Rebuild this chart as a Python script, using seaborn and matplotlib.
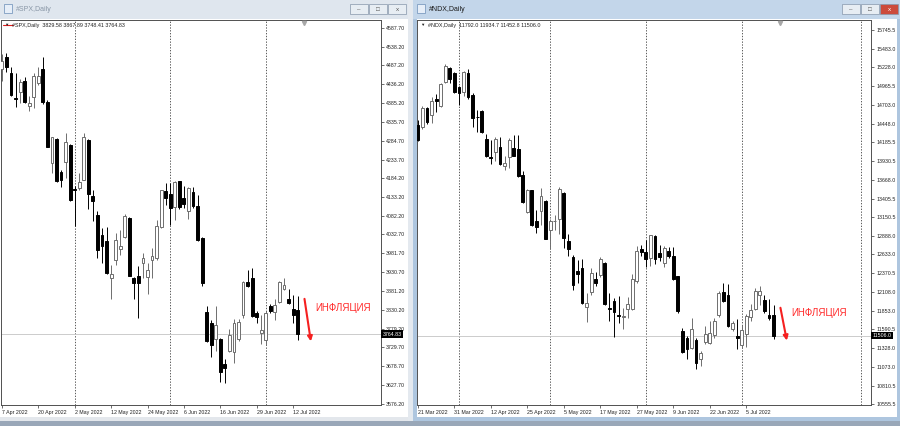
import numpy as np
import pandas as pd
import matplotlib
matplotlib.use("Agg")
import matplotlib.pyplot as plt
import matplotlib.transforms as mtransforms
from matplotlib.patches import Rectangle
import seaborn as sns

# ---- #SPX daily bars (7 Apr 2022 .. 13 Jul 2022) ----
spx_open = [4476.9, 4510.7, 4466.2, 4400.0, 4416.0, 4446.3, 4378.4, 4401.8, 4439.3, 4476.9,
            4389.2, 4224.7, 4290.7, 4199.5, 4228.2, 4273.0, 4155.7, 4156.5, 4179.9, 4287.2,
            4135.1, 4086.0, 4032.3, 4014.3, 3916.2, 3963.4, 3994.0, 4026.1, 4077.1, 3916.2,
            3920.4, 3956.4, 3918.8, 3965.2, 3969.8, 4053.0, 4148.5, 4142.3, 4107.4, 4175.3,
            4131.6, 4094.8, 4145.8, 4110.1, 4023.5, 3824.9, 3795.4, 3750.6, 3750.6, 3685.4,
            3719.2, 3716.5, 3750.6, 3815.0, 3904.4, 3916.2, 3820.4, 3768.6, 3748.7, 3839.9,
            3824.9, 3850.7, 3884.8, 3859.8, 3831.1, 3829.58]
spx_high = [4517.9, 4521.4, 4483.9, 4467.8, 4451.7, 4455.4, 4405.3, 4467.8, 4482.3, 4510.7,
            4394.5, 4296.1, 4292.0, 4206.7, 4305.2, 4275.0, 4161.9, 4197.9, 4306.8, 4290.0,
            4153.0, 4094.8, 4051.1, 4053.8, 3951.8, 4036.9, 4045.7, 4088.7, 4079.0, 3919.0,
            3949.1, 3984.0, 3957.2, 3997.4, 4070.7, 4153.0, 4171.8, 4171.8, 4175.3, 4177.0,
            4161.9, 4161.1, 4161.1, 4139.6, 4025.0, 3839.9, 3802.4, 3839.9, 3753.3, 3698.8,
            3777.4, 3804.3, 3804.3, 3907.0, 3938.4, 3943.0, 3826.5, 3815.0, 3826.5, 3845.0,
            3859.8, 3907.0, 3916.2, 3884.8, 3868.7, 3867.89]
spx_low = [4446.3, 4470.5, 4405.3, 4376.5, 4385.7, 4385.7, 4365.8, 4372.3, 4434.8, 4383.8,
           4267.0, 4197.9, 4175.0, 4160.3, 4184.4, 4123.0, 4054.6, 4153.0, 4178.0, 4101.3,
           4068.0, 3969.8, 3957.2, 3927.7, 3857.9, 3951.8, 3978.7, 4023.5, 3920.4, 3857.9,
           3808.8, 3916.2, 3874.0, 3916.2, 3965.2, 4050.3, 4112.8, 4059.2, 4072.6, 4100.0,
           4104.7, 4075.2, 4104.7, 4014.3, 3895.5, 3743.3, 3704.2, 3719.2, 3636.0, 3634.4,
           3716.5, 3688.1, 3746.0, 3808.8, 3892.0, 3811.5, 3795.4, 3737.2, 3734.5, 3822.0,
           3802.4, 3849.0, 3883.0, 3846.4, 3795.4, 3748.41]
spx_close = [4500.0, 4482.3, 4407.1, 4398.0, 4442.8, 4389.2, 4387.3, 4458.9, 4458.9, 4390.0,
             4269.2, 4294.5, 4176.4, 4179.9, 4281.8, 4124.3, 4153.0, 4174.5, 4296.1, 4142.3,
             4121.7, 3992.1, 4000.9, 3929.6, 3927.7, 4018.9, 4002.8, 4083.3, 3922.3, 3902.7,
             3900.9, 3969.8, 3938.4, 3976.0, 4054.6, 4151.2, 4130.8, 4103.9, 4174.5, 4106.6,
             4115.5, 4158.4, 4110.1, 4017.0, 3903.5, 3746.0, 3734.5, 3788.2, 3662.9, 3674.7,
             3761.3, 3795.4, 3797.0, 3904.4, 3893.6, 3813.1, 3811.5, 3774.7, 3820.4, 3826.5,
             3842.6, 3904.4, 3898.2, 3849.1, 3815.8, 3764.83]
spx_price_labels = [4587.70, 4538.20, 4487.20, 4436.20, 4385.20, 4335.70, 4284.70, 4233.70,
                    4184.20, 4133.20, 4082.20, 4032.70, 3981.70, 3930.70, 3881.20, 3830.20,
                    3779.20, 3729.70, 3678.70, 3627.70, 3576.20]
spx_date_labels = ['7 Apr 2022', '20 Apr 2022', '2 May 2022', '12 May 2022', '24 May 2022',
                   '6 Jun 2022', '16 Jun 2022', '29 Jun 2022', '12 Jul 2022']
spx_month_starts = [16, 37, 58]

# ---- #NDX daily bars (21 Mar 2022 .. 13 Jul 2022) ----
ndx_open = [14430.7, 14398.9, 14661.8, 14569.1, 14794.7, 14693.7, 15030.0, 15215.4, 15146.2, 14952.5,
            14891.6, 15154.5, 14845.9, 14545.0, 14614.8, 14232.8, 13985.0, 14047.3, 14122.1, 13853.6,
            13983.7, 14108.2, 14094.4, 13738.7, 13216.9, 13521.4, 13092.4, 13230.8, 13369.2, 12967.8,
            13090.0, 13125.6, 13485.4, 12815.6, 12599.7, 12400.4, 12447.5, 11907.7, 12109.7, 12285.5,
            12340.9, 12516.6, 11893.8, 11985.2, 11785.0, 11759.6, 11880.0, 11880.0, 12262.0, 12707.6,
            12666.1, 12585.8, 12887.7, 12655.0, 12506.9, 12677.2, 12608.0, 12327.0, 11570.0, 11478.6,
            11340.2, 11445.4, 11188.0, 11417.7, 11399.7, 11510.5, 11787.3, 12109.7, 12064.1, 11603.2,
            11500.8, 11372.1, 11524.3, 11769.2, 11880.0, 12064.1, 11999.0, 11787.3, 11792.0]
ndx_high = [14499.9, 14693.7, 14684.0, 14822.4, 14859.7, 15016.1, 15274.9, 15233.4, 15164.2, 14970.5,
            15182.2, 15201.6, 14869.4, 14638.3, 14638.3, 14306.1, 14223.1, 14260.5, 14260.5, 14001.7,
            14246.6, 14292.3, 14292.3, 13784.4, 13545.0, 13531.1, 13254.3, 13554.6, 13392.7, 13125.6,
            13185.1, 13568.5, 13494.0, 12922.1, 12617.7, 12552.6, 12562.3, 12091.7, 12447.5, 12386.5,
            12599.7, 12525.0, 12091.7, 12032.2, 12050.2, 11884.1, 12036.4, 12354.7, 12749.1, 12756.1,
            12825.3, 12908.3, 12894.5, 12763.0, 12742.2, 12738.1, 12728.4, 12336.0, 11617.0, 11500.8,
            11755.4, 11478.6, 11293.2, 11639.2, 11708.4, 11755.4, 12123.6, 12239.8, 12216.3, 11708.4,
            11731.9, 11648.9, 11801.1, 11939.5, 12170.6, 12192.8, 12064.1, 12008.7, 11934.7]
ndx_low = [14199.6, 14371.2, 14444.5, 14454.2, 14600.9, 14684.0, 15007.8, 15016.1, 14869.4, 14707.5,
           14832.1, 14786.4, 14398.9, 14324.1, 14315.8, 13983.7, 13890.9, 13922.8, 13877.1, 13798.2,
           13831.4, 13992.0, 13706.9, 13347.0, 13200.0, 13023.2, 12931.8, 13046.7, 12839.1, 12710.4,
           12967.8, 12922.1, 12724.2, 12608.0, 12137.4, 12239.8, 11939.5, 11694.5, 12064.1, 12192.8,
           12322.9, 11925.7, 11708.4, 11492.5, 11676.5, 11593.5, 11745.7, 11860.6, 12239.8, 12608.0,
           12451.6, 12465.4, 12493.1, 12534.6, 12451.6, 12585.8, 12275.8, 11824.6, 11271.0, 11188.0,
           11316.7, 11039.9, 11085.6, 11385.9, 11385.9, 11478.6, 11769.2, 11971.3, 11630.0, 11570.0,
           11326.4, 11340.2, 11354.1, 11708.4, 11860.6, 11925.7, 11824.6, 11722.2, 11452.8]
ndx_close = [14223.1, 14661.8, 14462.5, 14767.0, 14767.0, 14994.0, 15247.3, 15063.2, 14891.6, 14877.7,
             15160.1, 14814.1, 14523.4, 14537.3, 14324.1, 13992.0, 13969.8, 14232.8, 13890.9, 13900.6,
             14223.1, 14001.7, 13724.9, 13355.3, 13531.1, 13046.7, 13014.9, 13448.1, 12848.8, 13092.4,
             13097.9, 13540.8, 12862.6, 12710.4, 12202.5, 12354.7, 11953.3, 11953.3, 12378.2, 12230.1,
             12572.0, 11939.5, 11880.0, 11832.9, 11780.3, 11777.6, 11939.5, 12285.5, 12673.0, 12659.2,
             12572.0, 12894.5, 12562.3, 12599.7, 12724.2, 12608.0, 12285.5, 11846.8, 11279.3, 11316.7,
             11593.5, 11122.9, 11271.0, 11524.3, 11547.8, 11708.4, 12091.7, 11985.2, 11639.2, 11676.5,
             11478.6, 11583.8, 11777.6, 11860.6, 12123.6, 12123.6, 11846.8, 11755.4, 11506.0]
ndx_price_labels = [15745.5, 15483.0, 15228.0, 14965.5, 14703.0, 14448.0, 14185.5, 13930.5,
                    13668.0, 13405.5, 13150.5, 12888.0, 12633.0, 12370.5, 12108.0, 11853.0,
                    11590.5, 11328.0, 11073.0, 10810.5, 10555.5]
ndx_date_labels = ['21 Mar 2022', '31 Mar 2022', '12 Apr 2022', '25 Apr 2022', '5 May 2022',
                   '17 May 2022', '27 May 2022', '9 Jun 2022', '22 Jun 2022', '5 Jul 2022']
ndx_month_starts = [9, 29, 50, 71]

annotation = 'ИНФЛЯЦИЯ'

sns.set_theme(style="white")
plt.rcParams['font.family'] = ['Liberation Sans', 'DejaVu Sans']

W, H = 900, 426
fig = plt.figure(figsize=(W / 100, H / 100), dpi=100)
fig.patch.set_facecolor('#dde4ec')


def box(x0, y0, x1, y1, fc, ec='none', lw=0):
    fig.patches.append(Rectangle((x0 / W, 1 - y1 / H), (x1 - x0) / W, (y1 - y0) / H,
                                 transform=fig.transFigure, facecolor=fc,
                                 edgecolor=ec, linewidth=lw, zorder=-5))


def ftext(x, y, s, **kw):
    fig.text(x / W, 1 - y / H, s, va='center', **kw)


def window(x0, x1, title, active):
    bar = '#c3d6ea' if active else '#dfe6ee'
    box(x0, 0, x1, 19, bar)
    box(x0, 19, x1, 417, 'white')
    box(x0 + 4, 4, x0 + 12, 13, '#e6eef8', ec='#7d9cc0', lw=0.6)
    ftext(x0 + 16, 9.5, title, fontsize=5, color='#1a1a1a' if active else '#8896a6')
    btns = [(x1 - 58, '#e7edf3'), (x1 - 39, '#e7edf3'), (x1 - 20, '#cc4b3c' if active else '#e7edf3')]
    for bx, col in btns:
        box(bx, 4, bx + 18, 14, col, ec='#8697ab', lw=0.5)
    ftext(x1 - 49, 9.5, '–', fontsize=4.5, color='#555', ha='center')
    ftext(x1 - 30, 9.5, '□', fontsize=4.5, color='#555', ha='center')
    ftext(x1 - 11, 9.5, 'x', fontsize=4.5, color='white' if active else '#555', ha='center')


window(0, 408, '#SPX,Daily', False)
window(413, 900, '#NDX,Daily', True)
box(408, 0, 413, 426, '#e4e9ef')
box(413, 19, 417, 421, '#aec6df')
box(897, 19, 900, 421, '#aec6df')
box(0, 417, 408, 421, '#e3e7ec')
box(413, 417, 900, 421, '#aec6df')
box(0, 421, 900, 426, '#99a7b8')

BULL = '#6e6e6e'


def candles(ax, o, h, l, c):
    df = pd.DataFrame({'open': o, 'high': h, 'low': l, 'close': c})
    df['x'] = np.arange(len(df))
    df['bottom'] = df[['open', 'close']].min(axis=1)
    df['height'] = (df['close'] - df['open']).abs()
    up = df['close'] >= df['open']
    for sel, face, edge in [(up, 'white', BULL), (~up, 'black', 'black')]:
        d = df[sel]
        ax.vlines(d['x'], d['low'], d['high'], color=edge, lw=0.7, zorder=2)
        ax.bar(d['x'], d['height'], bottom=d['bottom'], width=0.62, color=face,
               edgecolor=edge, linewidth=0.7, zorder=3)
    return df


def chart(rect, name, o, h, l, c, plabels, fmt, dlabels, months, ylim, step, shift_line=None):
    x0, y0, x1, y1 = rect
    ax = fig.add_axes([x0 / W, 1 - y1 / H, (x1 - x0) / W, (y1 - y0) / H])
    ax.set_facecolor('white')
    df = candles(ax, o, h, l, c)
    n = len(df)
    ax.set_xlim(-0.2, -0.2 + (x1 - x0) / step)
    ax.set_ylim(*ylim)
    for m in months:
        ax.axvline(m, color='#404040', lw=0.6, ls=(0, (1.6, 1.8)), zorder=1)
    if shift_line is not None:
        ax.axvline(shift_line, color='#404040', lw=0.6, ls=(0, (1.6, 1.8)), zorder=1)
    last_c = c[-1]
    ax.axhline(last_c, color='#c4c4c4', lw=0.6, zorder=1)

    ax.yaxis.tick_right()
    ax.set_yticks(plabels)
    ax.set_yticklabels([fmt.format(v) for v in plabels])
    ax.set_xticks(np.arange(len(dlabels)) * 8)
    ax.set_xticklabels(dlabels)
    for t in ax.get_xticklabels():
        t.set_ha('left')
    ax.tick_params(axis='both', which='both', direction='out', length=2.5, width=0.5,
                   color='#333333', labelsize=3.8, labelcolor='#222222', pad=1.2)
    ax.tick_params(axis='x', bottom=True, pad=1.5)
    ax.tick_params(axis='y', right=True, left=False)
    for s in ax.spines.values():
        s.set_visible(True)
        s.set_color('#505050')
        s.set_linewidth(0.7)
    ax.grid(False)

    blend = mtransforms.blended_transform_factory(ax.transAxes, ax.transData)
    ax.text(1.004, last_c, fmt.format(last_c), transform=blend, ha='left', va='center',
            fontsize=3.8, color='white',
            bbox=dict(boxstyle='square,pad=0.25', fc='black', ec='none'))

    head = '{}  {} {} {} {}'.format(name, *[fmt.format(v) for v in (o[-1], h[-1], l[-1], c[-1])])
    ax.annotate('▼', xy=(0, 1), xycoords='axes fraction', xytext=(3, -5),
                textcoords='offset pixels', fontsize=3.2, va='center', color='#222')
    ax.annotate(head, xy=(0, 1), xycoords='axes fraction', xytext=(11, -5),
                textcoords='offset pixels', fontsize=3.9, va='center', color='#222')

    blend_x = mtransforms.blended_transform_factory(ax.transData, ax.transAxes)
    ax.plot([n + 0.5], [0.993], marker='v', ms=3, color='#a8a8a8', transform=blend_x,
            clip_on=False, zorder=5)

    # red arrow and label
    ax.annotate('', xy=(n + 1.9, l[-1] - (ylim[1] - ylim[0]) * 0.003),
                xytext=(n + 0.5, h[-1] - (ylim[1] - ylim[0]) * 0.008),
                arrowprops=dict(arrowstyle='-|>', color='#f52020', lw=1.5,
                                mutation_scale=7, shrinkA=0, shrinkB=0), zorder=6)
    ax.text(n + 2.9, o[-1] + (ylim[1] - ylim[0]) * 0.004, annotation, fontsize=7,
            color='#ff2a2a', ha='left', va='center', zorder=6)
    return ax


ax1 = chart((1, 20, 381, 404.5), '#SPX,Daily', spx_open, spx_high, spx_low, spx_close,
            spx_price_labels, '{:.2f}', spx_date_labels, spx_month_starts,
            (3575.5, 4609.5), 4.55)
ax1.plot([0.004, 0.032], [0.988, 0.988], transform=ax1.transAxes, color='#e02020', lw=0.8)

ax2 = chart((417, 20, 871, 404.5), '#NDX,Daily', ndx_open, ndx_high, ndx_low, ndx_close,
            ndx_price_labels, '{:.1f}', ndx_date_labels, ndx_month_starts,
            (10550.0, 15884.0), 4.56, shift_line=97.1)

fig.savefig('out.png', dpi=100, facecolor=fig.get_facecolor())
